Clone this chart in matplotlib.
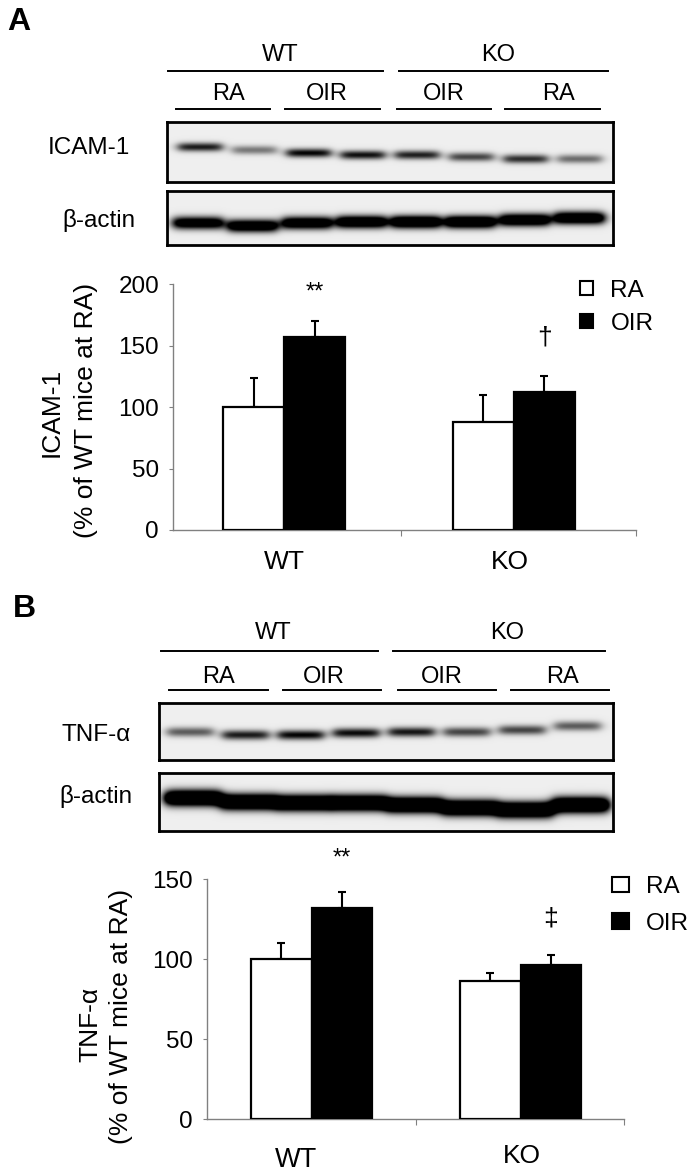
import matplotlib
matplotlib.use('Agg')
import matplotlib.pyplot as plt
import numpy as np
from matplotlib import patches
from matplotlib.lines import Line2D

plt.rcParams['font.family'] = ['Liberation Sans', 'DejaVu Sans']

# bar chart values (% of WT mice at RA)
groups = ['WT', 'KO']
icam_ra = [100, 88]
icam_ra_err = [24, 22]
icam_oir = [157.5, 112]
icam_oir_err = [13, 13]
tnf_ra = [100, 86.5]
tnf_ra_err = [10, 5]
tnf_oir = [132, 96.5]
tnf_oir_err = [10, 6]

# blot lanes: band darkness and vertical position (px) per lane
lanes_top = ['RA', 'OIR', 'OIR', 'RA']
icam_band = [0.9, 0.5, 1.0, 0.95, 0.88, 0.72, 0.82, 0.55]
icam_band_y = [147, 150, 153, 155, 155, 157, 159, 159]
actin_a_band = [1.4, 1.5, 1.5, 1.6, 1.7, 1.7, 1.6, 1.6]
actin_a_y = [223, 226, 223, 222, 222, 222, 220, 218]
tnf_band = [0.62, 0.9, 1.0, 0.97, 0.92, 0.72, 0.72, 0.62]
tnf_band_y = [732, 735, 735, 733, 732, 732, 730, 726]
actin_b_band = [2.0, 2.0, 2.0, 2.0, 2.0, 2.0, 2.0, 2.0]
actin_b_y = [798, 802, 803, 803, 805, 808, 810, 805]

W, H = 693, 1174
fig = plt.figure(figsize=(W / 100, H / 100), dpi=100)

# overlay in pixel coordinates for labels and header lines
ov = fig.add_axes([0, 0, 1, 1])
ov.set_xlim(0, W)
ov.set_ylim(H, 0)
ov.axis('off')


def hline(x0, x1, y):
    ov.add_line(Line2D([x0, x1], [y, y], color='black', lw=1.4))


def header(y_top, wt_x, ko_x, top_lines, sub_y, sub_x, sub_lines):
    ov.text(wt_x, y_top, 'WT', ha='center', va='center', fontsize=17)
    ov.text(ko_x, y_top, 'KO', ha='center', va='center', fontsize=17)
    for x0, x1, y in top_lines:
        hline(x0, x1, y)
    for lab, x in zip(lanes_top, sub_x):
        ov.text(x, sub_y, lab, ha='center', va='center', fontsize=17)
    for x0, x1, y in sub_lines:
        hline(x0, x1, y)


def blot(box, first, step, dark, ys, sigma, length):
    x0, y0, x1, y1 = box
    ax = fig.add_axes([x0 / W, 1 - y1 / H, (x1 - x0) / W, (y1 - y0) / H])
    xx, yy = np.meshgrid(np.linspace(x0, x1, int(x1 - x0) * 2),
                         np.linspace(y0, y1, int(y1 - y0) * 2))
    d = np.zeros_like(xx)
    for i, (a, yc) in enumerate(zip(dark, ys)):
        cx = first + i * step
        px = (1 / (1 + np.exp(-(xx - (cx - length / 2)) / 3.0)) *
              1 / (1 + np.exp((xx - (cx + length / 2)) / 3.0)))
        py = np.exp(-((yy - yc) / sigma) ** 2)
        d += a * px * py
    img = 0.935 * (1 - np.clip(d, 0, 1))
    ax.imshow(img, cmap='gray', vmin=0, vmax=1, aspect='auto',
              extent=[x0, x1, y1, y0], interpolation='bilinear')
    ax.set_xticks([])
    ax.set_yticks([])
    for s in ax.spines.values():
        s.set_linewidth(2)
        s.set_color('black')


def bars(rect, xlim, ylim, yticks, bw, ra, ra_err, oir, oir_err, tick_x):
    ax = fig.add_axes(rect)
    x = np.arange(len(groups))
    ax.bar(x - bw / 2, ra, bw, color='white', edgecolor='black', lw=1.6, zorder=3)
    ax.bar(x + bw / 2, oir, bw, color='black', edgecolor='black', lw=1.6, zorder=3)
    ax.errorbar(x - bw / 2, ra, yerr=[[0] * len(ra), ra_err], fmt='none',
                ecolor='black', elinewidth=1.5, capsize=3, capthick=1.5, zorder=2)
    ax.errorbar(x + bw / 2, oir, yerr=[[0] * len(oir), oir_err], fmt='none',
                ecolor='black', elinewidth=1.5, capsize=3, capthick=1.5, zorder=2)
    ax.set_xlim(*xlim)
    ax.set_ylim(*ylim)
    ax.set_yticks(yticks)
    ax.set_xticks(tick_x)
    ax.set_xticklabels([])
    for s in ['top', 'right']:
        ax.spines[s].set_visible(False)
    for s in ['left', 'bottom']:
        ax.spines[s].set_color('#808080')
        ax.spines[s].set_linewidth(1)
    ax.tick_params(axis='y', direction='out', length=3, color='#808080',
                   labelsize=17.5, pad=7)
    ax.tick_params(axis='x', direction='out', length=4, color='#808080')
    ax.patch.set_alpha(0)
    return ax


def legend(x, y, hl, hh, spacing):
    fig.legend(handles=[
        patches.Patch(facecolor='white', edgecolor='black', lw=1.5, label='RA'),
        patches.Patch(facecolor='black', edgecolor='black', lw=1.5, label='OIR')],
        loc='upper left', bbox_to_anchor=(x / W, 1 - y / H), frameon=False,
        fontsize=17.5, handlelength=hl, handleheight=hh, handletextpad=0.7,
        labelspacing=spacing, borderpad=0, borderaxespad=0)


# ---------------- panel A ----------------
ov.text(19, 22, 'A', ha='center', va='center', fontsize=23, fontweight='bold')
header(55, 280, 498, [(168, 383, 71), (399, 608, 71)],
       94, [229, 327, 444, 558],
       [(176, 270, 109), (285, 380, 109), (397, 491, 109), (505, 600, 109)])
ov.text(89, 148, 'ICAM-1', ha='center', va='center', fontsize=17.5)
ov.text(99, 220, 'β-actin', ha='center', va='center', fontsize=17.5)
blot((167, 122, 613, 182), 200, 54.3, icam_band, icam_band_y, 4.4, 44)
blot((167, 191, 613, 245), 198, 54.5, actin_a_band, actin_a_y, 6.2, 50)

axA = bars([173 / W, 1 - 530 / H, (636 - 173) / W, (530 - 284.3) / H],
           (-0.484, 1.533), (0, 200), [0, 50, 100, 150, 200], 0.266,
           icam_ra, icam_ra_err, icam_oir, icam_oir_err, [0.51, 1.533])
axA.text(0 + 0.133, 193, '**', ha='center', va='center', fontsize=17)
axA.text(1 + 0.133, 157, '†', ha='center', va='center', fontsize=19)
ov.text(52, 412, 'ICAM-1', rotation=90, ha='center', va='center', fontsize=19)
ov.text(86, 410, '(% of WT mice at RA)', rotation=90, ha='center',
        va='center', fontsize=19)
ov.text(284, 562, 'WT', ha='center', va='center', fontsize=19)
ov.text(510, 562, 'KO', ha='center', va='center', fontsize=19)
legend(580, 280, 0.55, 0.5, 0.45)

# ---------------- panel B ----------------
ov.text(24, 609, 'B', ha='center', va='center', fontsize=23, fontweight='bold')
header(633, 273, 507, [(161, 378, 651), (393, 605, 651)],
       677, [218, 324, 442, 562],
       [(169, 268, 690), (283, 381, 690), (398, 496, 690), (511, 609, 690)])
ov.text(96, 735, 'TNF-α', ha='center', va='center', fontsize=17.5)
ov.text(96, 797, 'β-actin', ha='center', va='center', fontsize=17.5)
blot((159, 703, 613, 760), 190, 55.4, tnf_band, tnf_band_y, 4.8, 46)
blot((159, 773, 613, 831), 193, 55.4, actin_b_band, actin_b_y, 7.8, 56)

axB = bars([207 / W, 1 - 1119.3 / H, (624 - 207) / W, (1119.3 - 879) / H],
           (-0.5, 1.495), (0, 150), [0, 50, 100, 150], 0.29,
           tnf_ra, tnf_ra_err, tnf_oir, tnf_oir_err, [0.5, 1.495])
axB.text(0 + 0.145, 163, '**', ha='center', va='center', fontsize=17,
         clip_on=False)
axB.text(1 + 0.145, 125.5, '‡', ha='center', va='center', fontsize=19)
ov.text(90, 1024, 'TNF-α', rotation=90, ha='center', va='center', fontsize=19)
ov.text(121, 1016, '(% of WT mice at RA)', rotation=90, ha='center',
        va='center', fontsize=19)
ov.text(296, 1160, 'WT', ha='center', va='center', fontsize=19.5)
ov.text(522, 1156, 'KO', ha='center', va='center', fontsize=19)
legend(612, 876, 0.7, 0.58, 0.6)

fig.savefig('out.png', dpi=100)
